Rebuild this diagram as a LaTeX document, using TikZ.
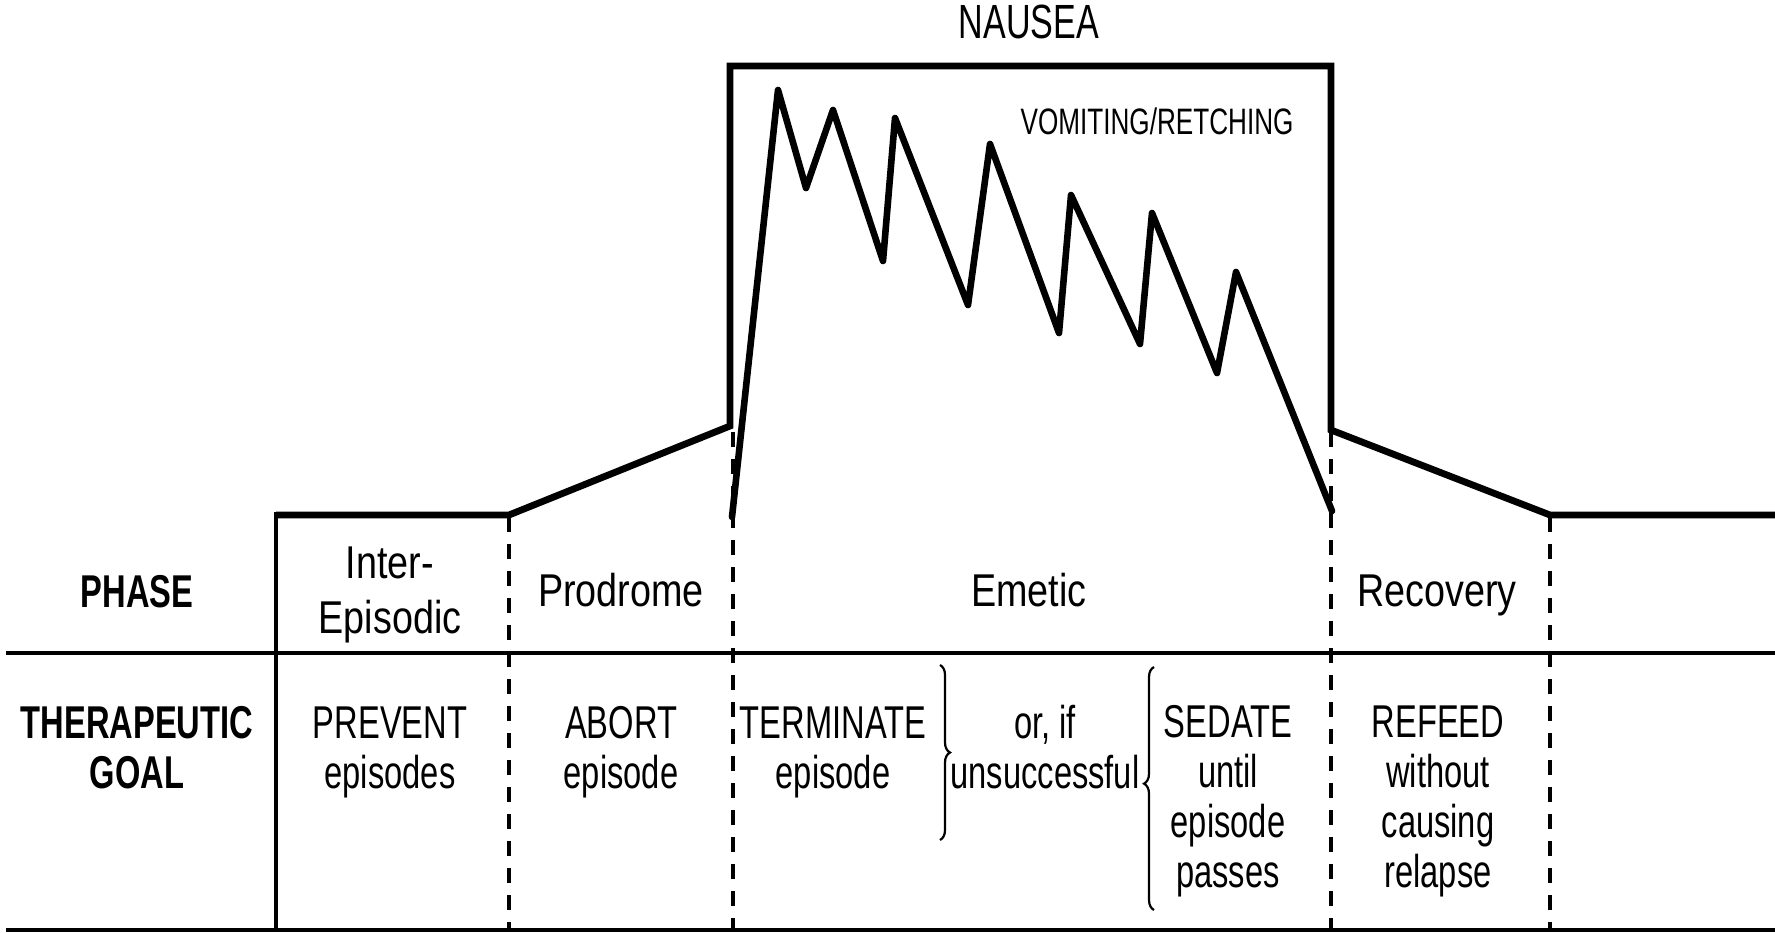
\documentclass[tikz,border=0pt]{standalone}
\usepackage{fontspec}
\setmainfont{Liberation Sans}[FakeStretch=0.71]
\newfontfamily\widefont{Liberation Sans}[FakeStretch=0.82]
\usetikzlibrary{
  positioning,
  calc,
  decorations.pathreplacing
}
\tikzset{
  signal/.style={line width=1.65pt, line join=round, line cap=round},
  envelope/.style={line width=1.7pt, line join=miter},
  tablerule/.style={line width=0.9pt},
  divider/.style={line width=0.95pt, dash pattern=on 3.75pt off 3pt},
  phasetext/.style={font=\widefont\fontsize{11.5}{13.75}\selectfont, align=center, inner sep=0pt},
  goaltext/.style={font=\fontsize{11.5}{12.5}\selectfont, align=center, inner sep=0pt},
  rowhead/.style={font=\fontsize{11.5}{12.5}\selectfont\bfseries, align=center, inner sep=0pt},
  smalltext/.style={font=\fontsize{9.2}{11}\selectfont, inner sep=0pt},
  curlybrace/.style={decorate, decoration={brace, amplitude=2.5pt}, line width=0.55pt}
}

\begin{document}
\begin{tikzpicture}[x=0.25pt, y=-0.25pt]
  \useasboundingbox (0,0) rectangle (1775,932);
  \draw[tablerule] (6,653) -- (1775,653);
  \draw[tablerule] (6,930) -- (1775,930);
  \draw[tablerule] (276,512) -- (276,932);
  \foreach \x/\y in {509/517, 733/432, 1331/432, 1550/517}
    \draw[divider] (\x,\y) -- (\x,932);
  \draw[envelope] (276,515) -- (509,515) -- (730,426) -- (730,66) -- (1331,66)
    -- (1331,430) -- (1550,515) -- (1775,515);
  \draw[signal] (732,517) -- (778,90) -- (806,188) -- (833,110) -- (883,261) -- (895,118)
    -- (968,305) -- (990,144) -- (1059,333) -- (1071,195) -- (1140,344) -- (1152,213)
    -- (1217,373) -- (1236,272) -- (1332,511);
  \node[goaltext, font=\fontsize{12}{14}\selectfont, anchor=base] (nausea) at (1029,38) {NAUSEA};
  \node[smalltext, anchor=base] (vomiting) at (1157,134) {VOMITING/RETCHING};
  \node[rowhead, anchor=base] (phase) at (137,607) {PHASE};
  \node[phasetext, anchor=base] (inter) at (390,633) {Inter-\\Episodic};
  \node[phasetext, anchor=base] (prodrome) at (621,606) {Prodrome};
  \node[phasetext, anchor=base] (emetic) at (1029,606) {Emetic};
  \node[phasetext, anchor=base] (recovery) at (1437,606) {Recovery};
  \node[rowhead, anchor=base] (goal) at (137,788) {THERAPEUTIC\\GOAL};
  \node[goaltext, anchor=base] (prevent) at (390,788) {PREVENT\\episodes};
  \node[goaltext, anchor=base] (abort) at (621,788) {ABORT\\episode};
  \node[goaltext, anchor=base] (terminate) at (833,788) {TERMINATE\\episode};
  \node[goaltext, anchor=base] (orif) at (1045,788) {or, if\\unsuccessful};
  \node[goaltext, anchor=base] (sedate) at (1228,887) {SEDATE\\until\\episode\\passes};
  \node[goaltext, anchor=base] (refeed) at (1438,887) {REFEED\\without\\causing\\relapse};
  \draw[curlybrace] (940,665) -- (940,840);
  \draw[curlybrace, decoration={aspect=0.52}] (1154,910) -- (1154,667);
\end{tikzpicture}
\end{document}
